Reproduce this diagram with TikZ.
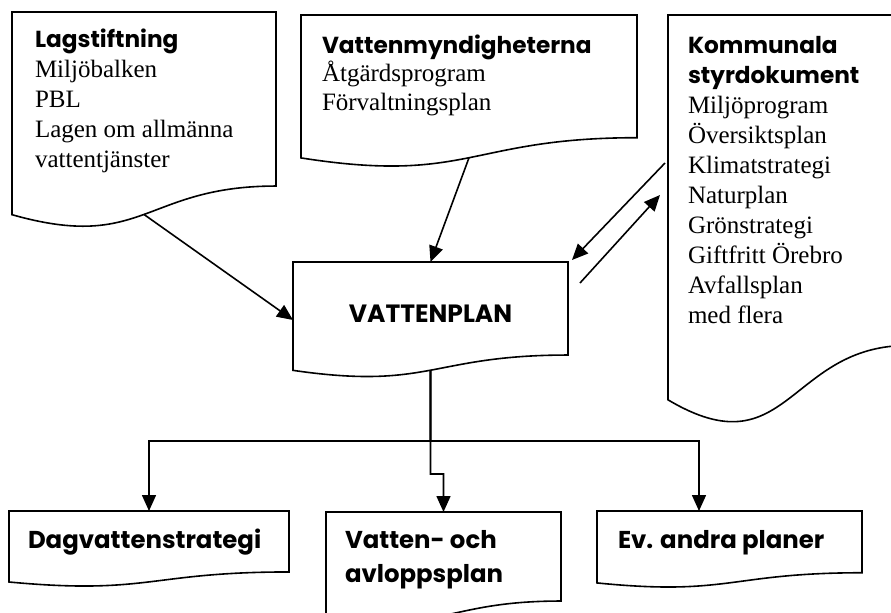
\documentclass[tikz,border=0pt]{standalone}
\usepackage{fontspec}
\setmainfont{Liberation Serif}
\newfontfamily\hdfont{Poppins}
\usetikzlibrary{arrows.meta,calc}
\tikzset{
  x=0.5pt,y=-0.5pt,
  conn/.style={line width=0.8pt,-{Triangle[length=8pt,width=7pt]}},
  docframe/.style={line width=0.8pt},
  txt/.style={anchor=base west,inner sep=0pt,outer sep=0pt},
}
\newcommand\hd{\hdfont\bfseries\fontsize{11.6}{15}\selectfont}
\newcommand\hdb{\hdfont\bfseries\fontsize{12.2}{17}\selectfont}
\newcommand\bd{\fontsize{12.5}{15}\selectfont}
\newcommand\docnode[5]{%
  \node[draw=none,anchor=north west,minimum width=#4*0.5pt,minimum height=#5*0.5pt,inner sep=0pt,outer sep=0pt] (#1) at (#2,#3) {};
  \draw[docframe] (#1.north west) -- (#1.north east)
    -- ($(#1.north east)!0.802!(#1.south east)$)
    .. controls ($(#1.north)!0.802!(#1.south)$) and ($(#1.north)!1.107!(#1.south)$)
    .. ($(#1.north west)!0.934!(#1.south west)$) -- cycle;
}
\newcommand\lines[2]{\vtop{\baselineskip=#1\lineskiplimit=-100pt\relax #2}}
\newcommand\lnx[1]{\hbox{#1}}
\begin{document}
\begin{tikzpicture}
\clip (0,0) rectangle (891,612);
\fill[white] (0,0) rectangle (891,612);
% documents
\docnode{lag}{12}{12}{264}{217}
\docnode{vm}{301}{15}{336}{153}
\docnode{kom}{668}{15}{240}{412}
\docnode{vp}{293}{262}{275}{116}
\docnode{dag}{9}{511}{280}{76}
\docnode{va}{326}{512}{235}{111}
\docnode{ev}{597}{511}{265}{77}
% texts
\node[txt] (tlag) at (35,47) {\lines{15pt}{\lnx{\hd Lagstiftning}\lnx{\bd Miljöbalken}\lnx{\bd PBL}\lnx{\bd Lagen om allmänna}\lnx{\bd vattentjänster}}};
\node[txt] (tvm) at (322,53) {\lines{14.3pt}{\lnx{\hd Vattenmyndigheterna}\lnx{\bd Åtgärdsprogram}\lnx{\bd Förvaltningsplan}}};
\node[txt] (tkom) at (688,53) {\lines{15pt}{\lnx{\hd Kommunala}\lnx{\hd styrdokument}\lnx{\bd Miljöprogram}\lnx{\bd Översiktsplan}\lnx{\bd Klimatstrategi}\lnx{\bd Naturplan}\lnx{\bd Grönstrategi}\lnx{\bd Giftfritt Örebro}\lnx{\bd Avfallsplan}\lnx{\bd med flera}}};
\node[anchor=base,inner sep=0pt] (tvp) at (430.5,322) {\hdfont\bfseries\fontsize{12.5}{15}\selectfont VATTENPLAN};
\node[txt] (tdag) at (28,548) {\hdb Dagvattenstrategi};
\node[txt] (tva) at (345,548) {\lines{17pt}{\lnx{\hdb Vatten- och}\lnx{\hdb avloppsplan}}};
\node[txt] (tev) at (618,548) {\hdb Ev. andra planer};
% connectors
\coordinate (lagb) at ($(lag.north)!0.933!(lag.south)$);
\coordinate (vmb) at ($(vm.north)!0.933!(vm.south)$);
\coordinate (vpb) at ($(vp.north)!0.933!(vp.south)$);
\draw[conn] (lagb) -- (vp.west);
\draw[conn] (vmb) -- (vp.north);
\coordinate (ka) at (665,163);
\coordinate (kb) at (572,260);
\coordinate (kc) at (580,283);
\coordinate (kd) at (660,195);
\draw[conn] (ka) -- (kb);
\draw[conn] (kc) -- (kd);
\coordinate (split) at (430.5,441);
\coordinate (jog) at (430.5,474);
\coordinate (evin) at (699,511);
\draw[conn] (vpb) -- (split) -| (dag.north);
\draw[conn] (vpb) -- (split) -| (evin);
\draw[conn] (vpb) -- (jog) -| (va.north);
\end{tikzpicture}
\end{document}
